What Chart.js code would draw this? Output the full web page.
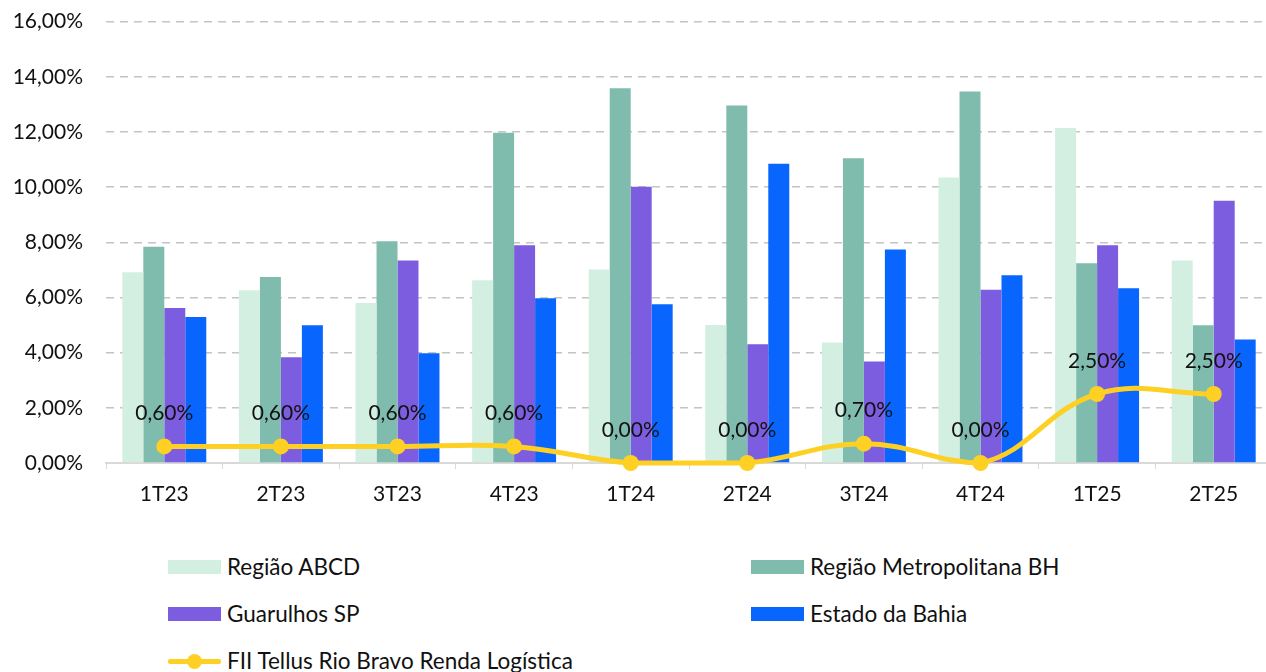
<!DOCTYPE html>
<html>
<head>
<meta charset="utf-8">
<script src="https://cdn.jsdelivr.net/npm/chart.js@4"></script>
<style>
    html, body { margin: 0; padding: 0; background: #fff; overflow: hidden; }
    #wrap { position: relative; width: 1266px; height: 672px; overflow: hidden; font-family: Lato, 'Open Sans', sans-serif; }
    #chart-box { position: absolute; left: 0; top: -14px; width: 1280px; height: 540px; }
    #legenda { position: absolute; left: 168px; top: 553px; width: 1000px; }
    .item { position: absolute; display: flex; align-items: center; font-size: 22.5px; color: #111; white-space: nowrap; }
    .caixa { width: 53px; height: 14px; margin-right: 6px; }
    .linha { position: relative; width: 53px; height: 14px; margin-right: 6px; }
    .linha span { position: absolute; left: 0; top: 5px; width: 53px; height: 5px; border-radius: 2px; }
    .linha i { position: absolute; left: 19px; top: 0; width: 15px; height: 15px; border-radius: 50%; }
</style>
</head>
<body>
<div id="wrap">
    <div id="chart-box"><canvas id="grafico-vacancia"></canvas></div>
    <div id="legenda"></div>
</div>
<script>
const trimestres = ['1T23', '2T23', '3T23', '4T23', '1T24', '2T24', '3T24', '4T24', '1T25', '2T25'];
const regiaoABCD = [6.91, 6.26, 5.80, 6.62, 7.01, 5.00, 4.37, 10.35, 12.14, 7.34];
const regiaoBH = [7.84, 6.74, 8.04, 11.97, 13.58, 12.96, 11.05, 13.47, 7.24, 4.99];
const guarulhos = [5.62, 3.83, 7.34, 7.89, 10.01, 4.30, 3.68, 6.28, 7.89, 9.51];
const bahia = [5.29, 4.99, 3.98, 5.97, 5.75, 10.85, 7.74, 6.81, 6.33, 4.48];
const fiiTellus = [0.60, 0.60, 0.60, 0.60, 0.00, 0.00, 0.70, 0.00, 2.50, 2.50];
const ticksY = [0, 2, 4, 6, 8, 10, 12, 14, 16];

const fonte = "Lato, 'Open Sans', sans-serif";
const formatoPct = v => v.toFixed(2).replace('.', ',') + '%';

// rótulos do FII acima dos pontos
const rotulosLinha = {
    id: 'rotulosLinha',
    afterDatasetsDraw(chart) {
        const ctx = chart.ctx;
        const idx = chart.data.datasets.findIndex(d => d.type === 'line');
        const meta = chart.getDatasetMeta(idx);
        ctx.save();
        ctx.font = '21px ' + fonte;
        ctx.fillStyle = '#111';
        ctx.textAlign = 'center';
        ctx.textBaseline = 'middle';
        meta.data.forEach((pt, i) => {
            ctx.fillText(formatoPct(chart.data.datasets[idx].data[i]), pt.x, pt.y - 33);
        });
        ctx.restore();
    }
};

const canvas = document.getElementById('grafico-vacancia');

const grafico = new Chart(canvas, {
    data: {
        labels: trimestres,
        datasets: [
            { type: 'bar', label: 'Região ABCD', data: regiaoABCD, backgroundColor: '#d3efe2', order: 1 },
            { type: 'bar', label: 'Região Metropolitana BH', data: regiaoBH, backgroundColor: '#80bcad', order: 1 },
            { type: 'bar', label: 'Guarulhos SP', data: guarulhos, backgroundColor: '#7c5ddf', order: 1 },
            { type: 'bar', label: 'Estado da Bahia', data: bahia, backgroundColor: '#0866ff', order: 1 },
            {
                type: 'line', label: 'FII Tellus Rio Bravo Renda Logística', data: fiiTellus,
                borderColor: '#fdd023', backgroundColor: '#fdd023', borderWidth: 5,
                pointRadius: 8, pointHoverRadius: 8, pointBorderWidth: 0,
                tension: 0.4, order: 0, clip: false
            }
        ]
    },
    options: {
        responsive: true,
        maintainAspectRatio: false,
        animation: false,
        categoryPercentage: 0.72,
        barPercentage: 1.0,
        layout: { padding: { top: 0, right: 0, left: 0, bottom: 0 } },
        scales: {
            x: {
                grid: { display: true, drawOnChartArea: false, drawTicks: true, tickLength: 6, color: '#d9d9d9', offset: true },
                border: { display: true, color: '#d9d9d9', width: 2 },
                ticks: { color: '#111', font: { family: fonte, size: 21 }, padding: 13 },
                afterFit: scale => { scale.height = 63; }
            },
            y: {
                min: 0,
                max: 16,
                afterBuildTicks: scale => { scale.ticks = ticksY.map(v => ({ value: v })); },
                grid: { color: '#c4c4c4', lineWidth: 1.5, drawTicks: false },
                border: { display: false, dash: [8, 6] },
                ticks: { color: '#111', font: { family: fonte, size: 21 }, padding: 23, callback: v => formatoPct(v) },
                afterFit: scale => { scale.width = 106; }
            }
        },
        plugins: {
            legend: { display: false },
            tooltip: { enabled: false }
        }
    },
    plugins: [rotulosLinha]
});

// legenda em duas colunas
const legenda = document.getElementById('legenda');
const posicoes = [[0, 0], [583, 0], [0, 47], [583, 47], [0, 94]];
grafico.data.datasets.forEach((ds, i) => {
    const item = document.createElement('div');
    item.className = 'item';
    item.style.left = posicoes[i][0] + 'px';
    item.style.top = posicoes[i][1] + 'px';
    let marca;
    if (ds.type === 'line') {
        marca = `<div class="linha"><span style="background:${ds.borderColor}"></span><i style="background:${ds.borderColor}"></i></div>`;
    } else {
        marca = `<div class="caixa" style="background:${ds.backgroundColor}"></div>`;
    }
    item.innerHTML = marca + `<span>${ds.label}</span>`;
    legenda.appendChild(item);
});
</script>
</body>
</html>
